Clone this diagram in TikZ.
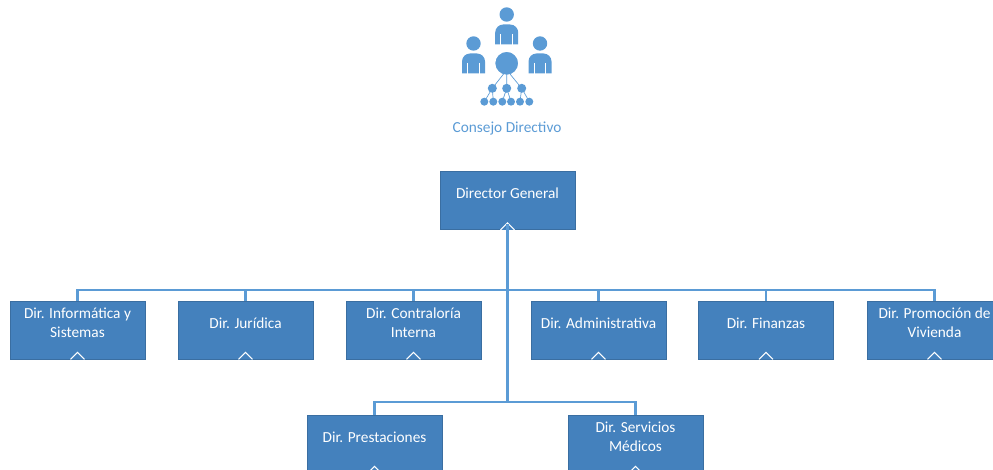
\documentclass[tikz,border=0pt]{standalone}
\usepackage{fontspec}
\setmainfont{Carlito}
\usepackage{tikz}

\definecolor{boxblue}{RGB}{68,129,189}
\definecolor{lineblue}{RGB}{91,155,213}

\tikzset{
    unit/.style={draw=boxblue!85!black, line width=0.4pt, fill=boxblue,
        minimum width=101.25pt, minimum height=43.5pt, inner sep=0pt,
        label={[unittext]center:#1}},
    unittext/.style={text=white, align=center, yshift=5.25pt,
        font=\fontsize{11.5}{14.3}\selectfont},
    link/.style={draw=lineblue, line width=1.8pt},
    fold/.style={draw=white, fill=boxblue, line width=0.8pt, line join=miter},
}

\begin{document}
\begin{tikzpicture}[x=0.75pt,y=-0.75pt]
    \useasboundingbox (0,0) rectangle (993,470);
    \clip (0,0) rectangle (993,470);

    % Draw icon
    \foreach \x/\y in {506.7/14.5,473.5/43.5,540/43.5}{
        \fill[lineblue] (\x,\y) circle (5.4pt); % head
        \fill[lineblue] (\x-11.5,\y+30) [rounded corners=6pt] -- (\x-11.5,\y+10) -- (\x+11.5,\y+10)
            [sharp corners] -- (\x+11.5,\y+30) -- cycle; % body
        \draw[white,line width=0.8pt] (\x-5.8,\y+19.5) -- (\x-5.8,\y+30.5)
            (\x+5.8,\y+19.5) -- (\x+5.8,\y+30.5);
    }
    \draw[white,line width=2pt,fill=lineblue] (506.7,63.3) circle (9.6pt);
    \draw[lineblue,line width=0.5pt] (506.7,70) -- (492.3,88.3) (506.7,70) -- (506.7,88.3)
        (506.7,70) -- (521.7,88.3)
        (492.3,88.3) -- (484.3,101.7) (492.3,88.3) -- (493.3,101.7)
        (506.7,88.3) -- (502.3,101.7) (506.7,88.3) -- (511,101.7)
        (521.7,88.3) -- (520,101.7) (521.7,88.3) -- (529.3,101.7);
    \foreach \x in {492.3,506.7,521.7}
        \fill[lineblue] (\x,88.3) circle (3.4pt);
    \foreach \x in {484.3,493.3,502.3,511,520,529.3}
        \fill[lineblue] (\x,101.7) circle (3pt);
    \node[text=lineblue, font=\fontsize{11.5}{14}\selectfont] (consejo) at (507,128.5) {Consejo Directivo};

    % Draw units
    \node[unit=Director General] (director) at (507.5,200.5) {};
    \node[unit={Dir. Informática y\\Sistemas}] (informatica) at (77.5,330) {};
    \node[unit=Dir. Jurídica] (juridica) at (245.5,330) {};
    \node[unit={Dir. Contraloría\\Interna}] (contraloria) at (413.5,330) {};
    \node[unit=Dir. Administrativa] (administrativa) at (598.5,330) {};
    \node[unit=Dir. Finanzas] (finanzas) at (766,330) {};
    \node[unit={Dir. Promoción de\\Vivienda}] (promocion) at (934.5,330) {};
    \node[unit=Dir. Prestaciones] (prestaciones) at (374.5,444) {};
    \node[unit={Dir. Servicios\\Médicos}] (servicios) at (635.5,444) {};

    % Draw fold marks
    \foreach \n in {director,informatica,juridica,contraloria,administrativa,finanzas,promocion,prestaciones,servicios}
        \draw[fold] ([xshift=-5.25pt]\n.south) -- ([yshift=5.25pt]\n.south) -- ([xshift=5.25pt]\n.south);

    % Draw links
    \coordinate (bus) at (507.5,290);
    \coordinate (lowbus) at (507.5,402);
    \draw[link] ([yshift=4.5pt]director.south) -- (lowbus);
    \draw[link] (informatica.north) |- (bus) -| (promocion.north);
    \foreach \n in {juridica,contraloria,administrativa,finanzas}
        \draw[link] (\n.north) |- (bus);
    \draw[link] (prestaciones.north) |- (lowbus) -| (servicios.north);
\end{tikzpicture}
\end{document}
